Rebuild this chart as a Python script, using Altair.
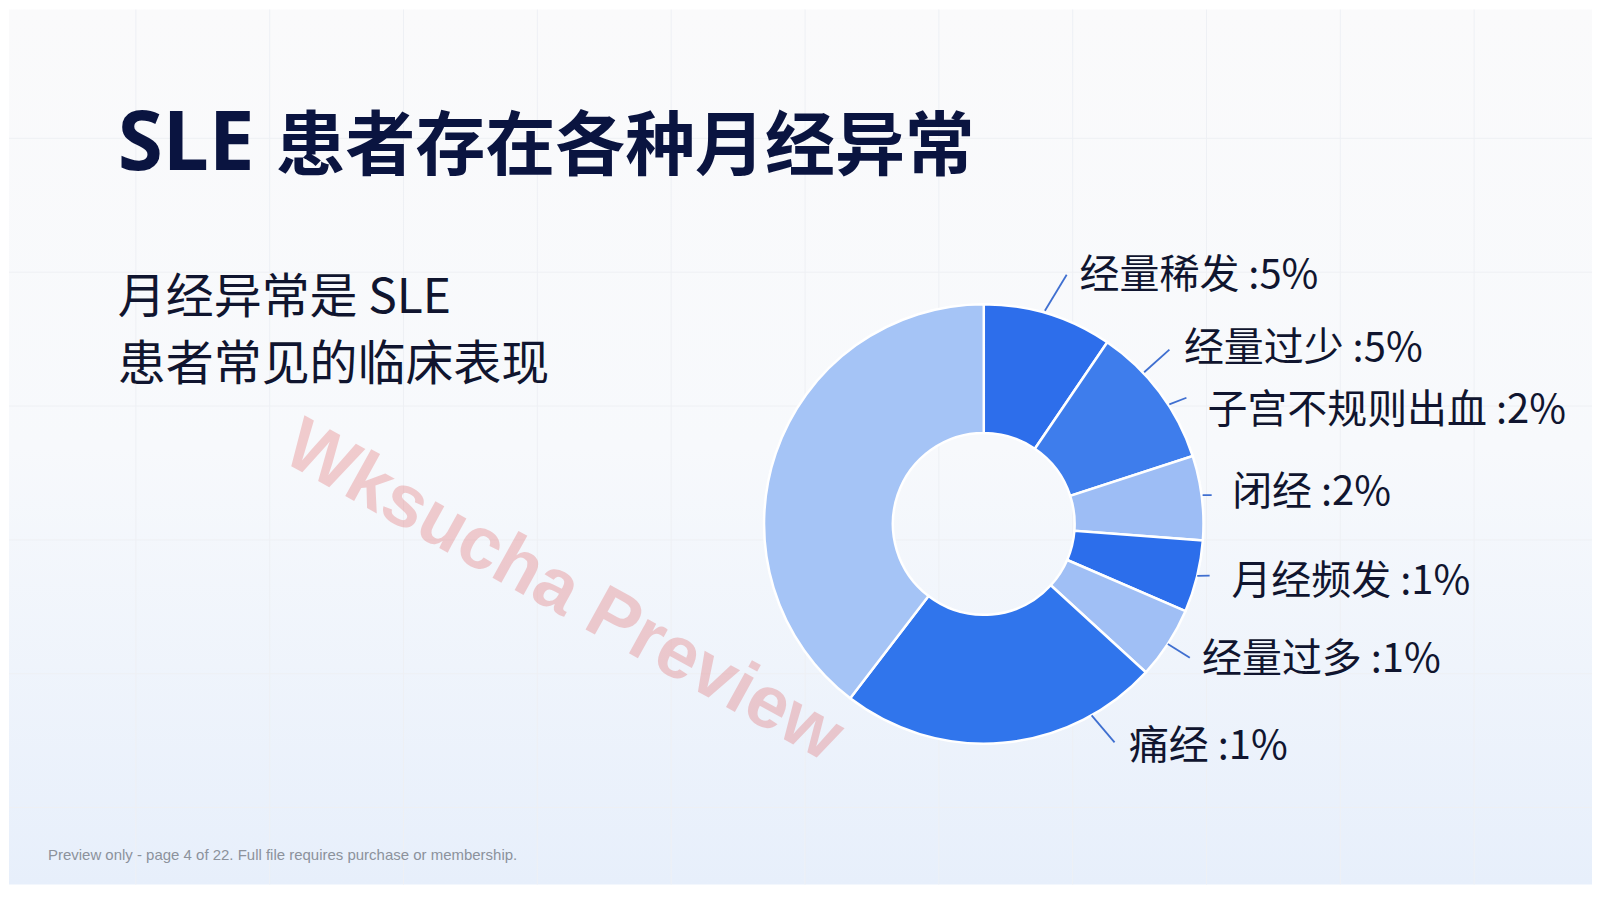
import altair as alt
import numpy as np
import pandas as pd

# ---------------- data ----------------
slice_keys = ["经量稀发", "经量过少", "闭经", "月经频发", "经量过多", "痛经", "其他"]
slice_share = [9.5, 10.5, 6.2, 5.3, 5.3, 23.6, 39.6]
slice_colors = ["#2D6EEB", "#3E7DEC", "#9DBDF5", "#2C6EEB", "#A0BFF5", "#3075EC", "#A5C4F6"]

label_names = ["经量稀发", "经量过少", "子宫不规则出血", "闭经", "月经频发", "经量过多", "痛经"]
label_pcts = [5, 5, 2, 2, 1, 1, 1]

title_latin = "SLE"
title_cjk = "患者存在各种月经异常"
subtitle_lines = ["月经异常是 SLE", "患者常见的临床表现"]
footer_text = "Preview only - page 4 of 22. Full file requires purchase or membership."
watermark_text = "Wksucha Preview"

# ---------------- layout ----------------
W, H = 1585, 876
CX, CY = 976, 515          # donut centre (chart px)
R_OUT, R_IN = 220, 91
# leader lines: start / end as (angle clockwise from north, radius)
leader_a0 = [16.0, 46.6, 57.2, 82.5, 103.7, 123.1, 150.6]
leader_r0 = [222, 221, 221, 221, 220, 220, 220]
leader_a1 = [18.4, 46.8, 58.1, 82.8, 102.9, 123.0, 149.1]
leader_r1 = [263, 255, 239, 230, 232, 246, 255]
label_angle = [20.9, 48.4, 62.7, 82.2, 102.5, 121.4, 146.6]
label_radius = [269, 268, 252, 251, 254, 256, 264]
GRID = 134

CJK = "Noto Sans CJK SC"
NAVY = "#0A1440"
INK = "#10152F"

XS = alt.Scale(domain=[-CX, W - CX], range=[0, W], nice=False, zero=False)
YS = alt.Scale(domain=[-CY, H - CY], range=[0, H], nice=False, zero=False)


def polar(a_deg, r):
    a = np.deg2rad(np.array(a_deg, dtype=float))
    r = np.array(r, dtype=float)
    return r * np.sin(a), -r * np.cos(a)


# ---------------- frames ----------------
slice_df = pd.DataFrame({"key": slice_keys, "share": slice_share, "idx": range(len(slice_keys))})

lx, ly = polar(label_angle, label_radius)
label_df = pd.DataFrame({
    "text": [f"{n} :{p}%" for n, p in zip(label_names, label_pcts)],
    "lx": lx, "ly": ly,
})

x1, y1 = polar(leader_a0, leader_r0)
x2, y2 = polar(leader_a1, leader_r1)
leader_df = pd.DataFrame({"x1": x1, "y1": y1, "x2": x2, "y2": y2})

vgrid = pd.DataFrame({"gx": np.arange(127, W, GRID) - CX})
hgrid = pd.DataFrame({"gy": np.arange(129, H, GRID) - CY})
one = pd.DataFrame({"a": [0]})

# ---------------- layers ----------------
bg = alt.Chart(one).mark_rect(
    fill=alt.LinearGradient(
        gradient="linear", x1=0, x2=0, y1=0, y2=1,
        stops=[alt.GradientStop(color="#FAFAFB", offset=0),
               alt.GradientStop(color="#F7F9FC", offset=0.5),
               alt.GradientStop(color="#E7EFFB", offset=1)]),
    stroke=None,
).encode(x=alt.value(0), x2=alt.value(W), y=alt.value(0), y2=alt.value(H))

vlines = alt.Chart(vgrid).mark_rule(color="#EEF0F4", strokeWidth=1).encode(
    x=alt.X("gx:Q", scale=XS, axis=None))
hlines = alt.Chart(hgrid).mark_rule(color="#EEF0F4", strokeWidth=1).encode(
    y=alt.Y("gy:Q", scale=YS, axis=None))

watermark = alt.Chart(pd.DataFrame({"t": [watermark_text]})).mark_text(
    font="Liberation Sans", fontWeight="bold", fontSize=74, angle=29,
    color="#DC3C3C", opacity=0.24, align="center", baseline="middle",
).encode(x=alt.value(555), y=alt.value(583), text="t:N")

donut = alt.Chart(slice_df).mark_arc(
    innerRadius=R_IN, outerRadius=R_OUT, stroke="white", strokeWidth=2.5,
).encode(
    theta=alt.Theta("share:Q", stack=True),
    color=alt.Color("key:N", scale=alt.Scale(domain=slice_keys, range=slice_colors), legend=None),
    order=alt.Order("idx:Q"),
    x=alt.value(CX), y=alt.value(CY),
)

leaders = alt.Chart(leader_df).mark_rule(color="#3F6FD0", strokeWidth=1.8).encode(
    x=alt.X("x1:Q", scale=XS, axis=None), y=alt.Y("y1:Q", scale=YS, axis=None),
    x2="x2:Q", y2="y2:Q")

labels = alt.Chart(label_df).mark_text(
    font=CJK, fontSize=40, color=INK, align="left", baseline="middle", dy=3,
).encode(x=alt.X("lx:Q", scale=XS, axis=None), y=alt.Y("ly:Q", scale=YS, axis=None), text="text:N")

title_a = alt.Chart(pd.DataFrame({"t": [title_latin]})).mark_text(
    font="Noto Sans", fontWeight="bold", fontSize=82, color=NAVY,
    align="left", baseline="alphabetic",
).encode(x=alt.value(109), y=alt.value(161), text="t:N")

title_b = alt.Chart(pd.DataFrame({"t": [title_cjk]})).mark_text(
    font=CJK, fontWeight="bold", fontSize=70, color=NAVY,
    align="left", baseline="alphabetic",
).encode(x=alt.value(267), y=alt.value(161), text="t:N")

sub1 = alt.Chart(pd.DataFrame({"t": [subtitle_lines[0]]})).mark_text(
    font=CJK, fontSize=48, color=INK, align="left", baseline="alphabetic",
).encode(x=alt.value(109), y=alt.value(304), text="t:N")

sub2 = alt.Chart(pd.DataFrame({"t": [subtitle_lines[1]]})).mark_text(
    font=CJK, fontSize=48, color=INK, align="left", baseline="alphabetic",
).encode(x=alt.value(109), y=alt.value(371), text="t:N")

footer = alt.Chart(pd.DataFrame({"t": [footer_text]})).mark_text(
    font="Liberation Sans", fontSize=15, color="#8C929C", align="left", baseline="middle",
).encode(x=alt.value(39), y=alt.value(847), text="t:N")

chart = alt.layer(
    bg, vlines, hlines, watermark, donut, leaders, labels,
    title_a, title_b, sub1, sub2, footer,
).properties(
    width=W, height=H, padding=0, background="white",
).configure_view(stroke=None)

chart.save("out.html", embed_options={"renderer": "svg", "actions": False})
